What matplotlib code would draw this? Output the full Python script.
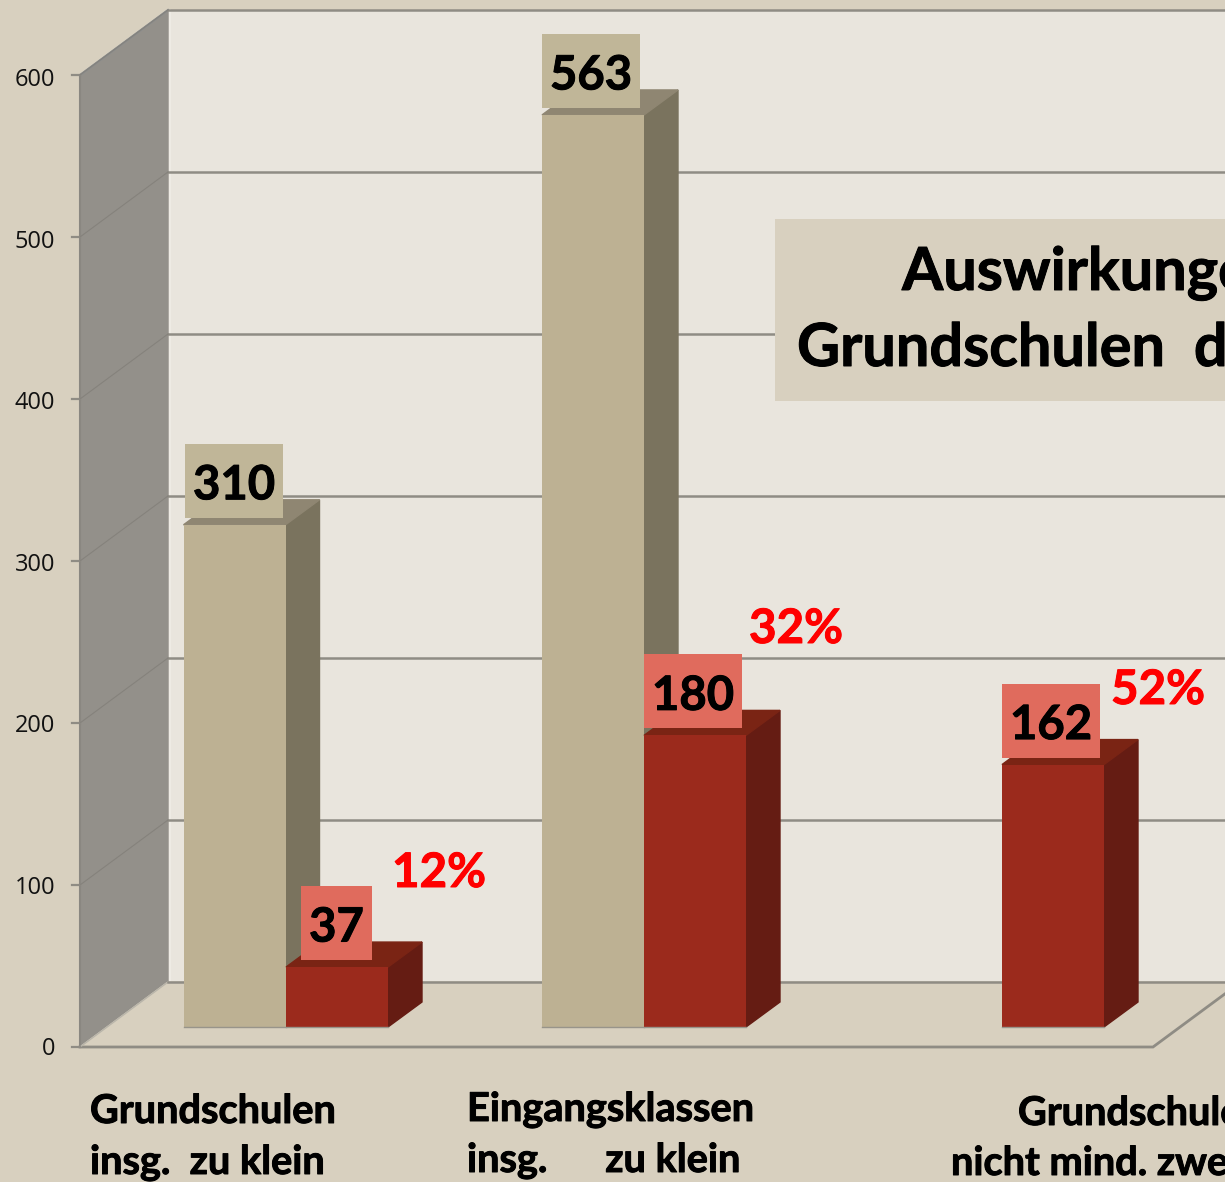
import matplotlib
matplotlib.use('Agg')
import matplotlib.pyplot as plt
import matplotlib.patheffects as pe
from matplotlib.patches import Rectangle

# values
tan_values = [310, 563]
red_values = [37, 180, 162]
red_percent = ['12%', '32%', '52%']
y_ticks = [0, 100, 200, 300, 400, 500, 600]
title_lines = ['Auswirkungen', 'Grundschulen  d']

BG = '#D8D0BF'
WALL = '#E9E5DD'
GRID = '#8F8C84'
SIDEWALL = '#93908A'
LABELFONT = 'Lato'

S = 1.62  # pixels per unit on the y axis


def yv(p):
    # picture row to y value
    return (1047 - p) / S


def bold_text(x, y, s, size, col='black', **kw):
    t = ax.text(x, y, s, fontsize=size, family=LABELFONT, weight='bold', color=col, zorder=8, **kw)
    t.set_path_effects([pe.withStroke(linewidth=0.7, foreground=col)])
    return t


fig = plt.figure(figsize=(12.25, 11.82), dpi=100, facecolor=BG)
ax = fig.add_axes([0, 0, 1, 1])
ax.set_xlim(0, 1225)
ax.set_ylim(yv(1182), yv(0))
ax.axis('off')

# 3d box of the chart
wall_dx = 88
wall_dv = 65 / S
top_v = y_ticks[-1]
ax.add_patch(Rectangle((wall_dx + 80, wall_dv), 1300, top_v, fc=WALL, ec='none', zorder=1))
ax.fill([80, 80 + wall_dx, 80 + wall_dx, 80],
        [0, wall_dv, top_v + wall_dv, top_v], color=SIDEWALL, zorder=2)
ax.plot([169.5, 169.5], [wall_dv, top_v + wall_dv], color='#F0EDE6', lw=1.2, zorder=2)
ax.plot([80, 80], [0, top_v], color='#8A8781', lw=1.5, zorder=3)
ax.plot([80, 168], [top_v, top_v + wall_dv], color='#8A8E90', lw=1.5, zorder=3)

# floor
ax.fill([80, 1153, 1241, 168], [0, 0, wall_dv, wall_dv], color=BG, zorder=2.5)
ax.plot([80, 1153, 1241], [0, 0, wall_dv], color=GRID, lw=2, zorder=3,
        solid_joinstyle='miter')
ax.plot([80, 168], [0, wall_dv], color='#B9B5AA', lw=1, zorder=3)

for t in y_ticks:
    ax.plot([168, 1225], [t + wall_dv, t + wall_dv], color=GRID, lw=1.8, zorder=3)
    ax.plot([72, 80], [t, t], color=GRID, lw=1.6, zorder=3)
    if t > 0:
        ax.plot([80, 168], [t, t + wall_dv], color='#85827C', lw=0.8, zorder=3)
    ax.text(55, t - 2 / S - t * 0.0033, str(t), ha='right', va='center', fontsize=17,
            family='Open Sans', color='#111111', zorder=5)

# bars
bar_width = 102
base = yv(1027)
side_dx = 34
side_dv = 25 / S
tan_x = [183.5, 542]
red_x = [286, 644, 1002]
tan_cols = ('#BDB193', '#7A735E', '#8F8672')
red_cols = ('#9B2A1C', '#651C13', '#7A2414')


def draw_bars(xs, vals, cols, z):
    front, side, top = cols
    ax.bar(xs, vals, bar_width, bottom=base, align='edge', color=front,
           edgecolor='none', zorder=z + 0.2)
    for x, v in zip(xs, vals):
        r = x + bar_width
        t = base + v
        ax.fill([r, r + side_dx, r + side_dx, r],
                [base, base + side_dv, t + side_dv, t], color=side, zorder=z)
        ax.fill([x, x + side_dx, r + side_dx, r],
                [t, t + side_dv, t + side_dv, t], color=top, zorder=z)
        ax.plot([x, r], [base, base], color='#98948A', lw=1, zorder=z + 0.3)


draw_bars(tan_x, tan_values, tan_cols, 4)
draw_bars(red_x, red_values, red_cols, 5)


# value labels on boxes
def value_box(x, v, w, col, txt):
    b = base + v + 7 / S
    ax.add_patch(Rectangle((x, b), w, 74 / S, fc=col, ec='none', zorder=7))
    bold_text(x + w / 2, b + 36.5 / S, txt, 34, ha='center', va='center_baseline')


value_box(185, tan_values[0], 98, '#C0B698', str(tan_values[0]))
value_box(542, tan_values[1], 98, '#C0B698', str(tan_values[1]))
value_box(301, red_values[0], 71, '#E06B5D', str(red_values[0]))
value_box(644, red_values[1], 98, '#E06B5D', str(red_values[1]))
value_box(1002, red_values[2], 98, '#E06B5D', str(red_values[2]))

pct_x = [392, 749, 1111]
pct_base = [887, 643, 704]
for x, b, s in zip(pct_x, pct_base, red_percent):
    bold_text(x, yv(b), s, 34.2, col='#FF0000', ha='left', va='baseline')

# title box, runs off the right edge
ax.add_patch(Rectangle((775, yv(401)), 500, 182 / S, fc=BG, ec='none', zorder=6))
bold_text(902, yv(290), title_lines[0], 42.8, ha='left', va='baseline')
bold_text(797, yv(366), title_lines[1], 42.8, ha='left', va='baseline')

# category labels
cat_lines = [(90, 1123, 'Grundschulen'), (90, 1174, 'insg.  zu klein'),
             (467, 1121, 'Eingangsklassen'), (467, 1172, 'insg.      zu klein'),
             (1018, 1125, 'Grundschulen'), (951, 1175, 'nicht mind. zwei')]
for x, b, s in cat_lines:
    bold_text(x, yv(b), s, 28.6, ha='left', va='baseline')

fig.savefig('out.png', dpi=100, facecolor=BG)
